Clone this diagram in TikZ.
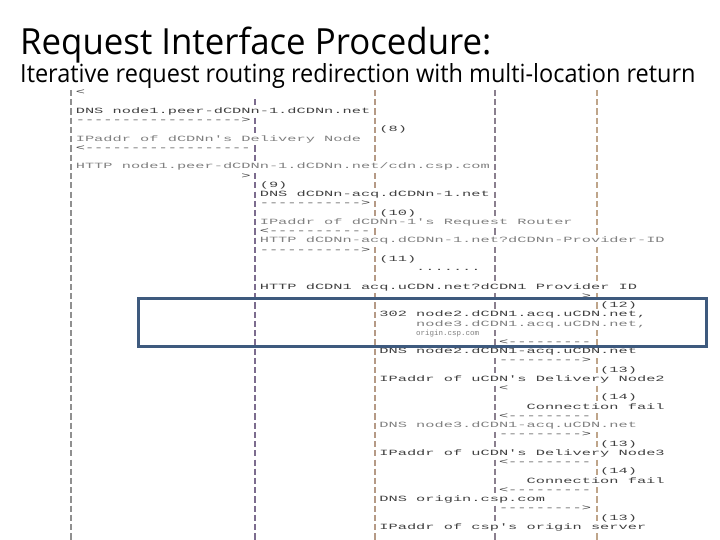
\documentclass[tikz,border=0pt]{standalone}
\usepackage{fontspec}
\setmainfont{Open Sans}
\setmonofont{Liberation Mono}
\usepackage{graphicx}
\usepackage{tikz}
\usetikzlibrary{positioning}
\definecolor{boxblue}{HTML}{3E5A7E}
\definecolor{lifegray}{HTML}{909090}
\definecolor{lifepurple}{HTML}{7C6C8E}
\definecolor{lifebrown}{HTML}{B59A86}
\definecolor{lifeslate}{HTML}{8A7F8E}
\definecolor{lifetan}{HTML}{BFA58A}

\begin{document}
\begin{tikzpicture}[
      x=1pt, y=-1pt,
      ascii/.style={anchor=base west, inner sep=0pt, fill=white, text=black!75,
        font=\ttfamily\fontsize{8}{9}\selectfont, text height=6.62pt, text depth=2.62pt},
      faint/.style={ascii, text=black!50},
      lifeline/.style={line width=1.1pt, dash pattern=on 6.2pt off 3.04pt},
      hl/.style={draw=boxblue, line width=3pt, inner sep=0pt},
      ttl/.style={anchor=base west, inner sep=0pt, text=black}
  ]
    \useasboundingbox (0,0) rectangle (720,540);

    % lifelines (drawn first, text rows mask them)
    \foreach \n/\x/\t/\c in {la/71/89.9/lifegray, lb/255/99.14/lifepurple,
                             lc/375/89.9/lifebrown, ld/495/89.9/lifeslate, le/597/89.9/lifetan} {
      \coordinate (\n top) at (\x,\t);
      \coordinate (\n bot) at (\x,540);
      \draw[lifeline, \c] (\n top) -- (\n bot);
    }

    % message rows: name/column/row/text
    \foreach \n/\c/\r/\s in {
        ra/1/0/{<},
        dnsa/1/2/{DNS node1.peer-dCDNn-1.dCDNn.net},
        arra/1/3/{------------------>},
        lbla/34/4/{(8)},
        arrb/1/6/{<------------------},
        arrc/19/9/{>},
        lblb/21/10/{(9)},
        dnsb/21/11/{DNS dCDNn-acq.dCDNn-1.net},
        arrd/21/12/{----------->},
        lblc/34/13/{(10)},
        arre/21/15/{<-----------},
        arrf/21/17/{----------->},
        lbld/34/18/{(11)},
        dots/38/19/{.......},
        httpc/21/21/{HTTP dCDN1 acq.uCDN.net?dCDN1 Provider ID},
        arrg/56/22/{>},
        lble/58/23/{(12)},
        redir/34/24/{302 node2.dCDN1.acq.uCDN.net,},
        arrh/47/27/{<---------},
        dnsc/34/28/{DNS node2.dCDN1-acq.uCDN.net},
        arri/47/29/{--------->},
        lblf/58/30/{(13)},
        ipc/34/31/{IPaddr of uCDN's Delivery Node2},
        arrj/47/32/{<},
        lblg/58/33/{(14)},
        faila/50/34/{Connection fail},
        arrk/47/35/{<---------},
        arrl/47/37/{--------->},
        lblh/58/38/{(13)},
        ipd/34/39/{IPaddr of uCDN's Delivery Node3},
        arrm/47/40/{<---------},
        lbli/58/41/{(14)},
        failb/50/42/{Connection fail},
        arrn/47/43/{<---------},
        dnse/34/44/{DNS origin.csp.com},
        arro/47/45/{--------->},
        lblj/58/46/{(13)},
        ipe/34/47/{IPaddr of csp's origin server}} {
      \node[ascii] (\n) at ({66.4+9.2*\c},{95+9.24*\r}) {\scalebox{1.917}[1]{\s}};
    }
    % blurred rows
    \foreach \n/\c/\r/\s in {
        ipa/1/5/{IPaddr of dCDNn's Delivery Node},
        httpa/1/8/{HTTP node1.peer-dCDNn-1.dCDNn.net/cdn.csp.com},
        ipb/21/14/{IPaddr of dCDNn-1's Request Router},
        httpb/21/16/{HTTP dCDNn-acq.dCDNn-1.net?dCDNn-Provider-ID},
        redirb/38/25/{node3.dCDN1.acq.uCDN.net,},
        dnsd/34/36/{DNS node3.dCDN1-acq.uCDN.net}} {
      \node[faint] (\n) at ({66.4+9.2*\c},{95+9.24*\r}) {\scalebox{1.917}[1]{\s}};
    }
    \node[faint, font=\ttfamily\fontsize{7.5}{8}\selectfont] (redirc) at ({66.4+9.2*38},{95+9.24*26})
      {\scalebox{1.0}[1]{origin.csp.com}};

    % title
    \node[ttl] (title) at (20,55) {\fontsize{36}{40}\selectfont\scalebox{0.967}[1]{Request Interface Procedure:}};
    \node[ttl] (subtitle) at (20,83) {\fontsize{25}{28}\selectfont\scalebox{0.94}[1]{Iterative request routing redirection with multi-location return}};

    % highlight
    \node[hl, minimum width=568pt, minimum height=48.5pt] (hlbox) at (422,322.25) {};
\end{tikzpicture}
\end{document}
